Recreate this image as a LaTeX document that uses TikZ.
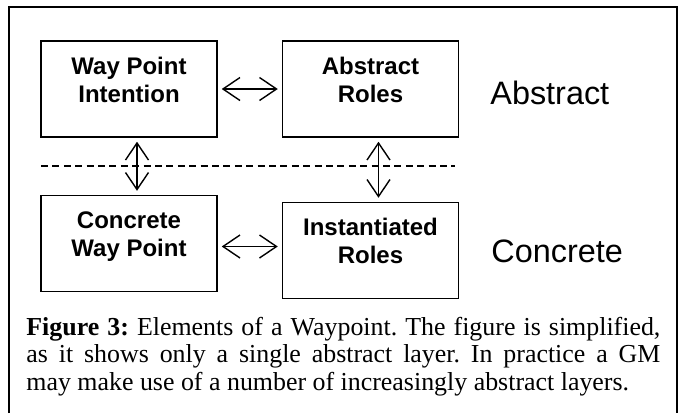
\documentclass[tikz,border=0pt]{standalone}
\usepackage{fontspec}
\setmainfont{Liberation Serif}
\setsansfont{Liberation Sans}
\usetikzlibrary{arrows.meta, positioning}
\frenchspacing

\begin{document}
\begin{tikzpicture}[
    x=0.5pt, y=-0.5pt,
    box/.style={rectangle, draw, line width=0.75pt, minimum width=88pt, minimum height=48pt, align=center, font=\sffamily\bfseries\fontsize{12}{14}\selectfont, text height=22.5pt, text depth=9.5pt},
    link/.style={{Straight Barb[length=8.5pt,width=11.5pt]}-{Straight Barb[length=8.5pt,width=11.5pt]}, line width=0.7pt, shorten <=2pt, shorten >=2pt},
    sep/.style={line width=0.65pt, dash pattern=on 3.5pt off 2.2pt},
    frame/.style={line width=1pt},
    layer/.style={anchor=base west, inner sep=0pt, font=\sffamily\fontsize{16.2}{19}\selectfont},
    caption/.style={anchor=base west, inner sep=0pt, text width=317pt, align=justify, font=\fontsize{12.95}{13.9}\selectfont}
]
\useasboundingbox (0,0) rectangle (681,413);
\draw[frame] (9,413) -- (9,7) -- (677,7) -- (677,413);

\node[box] (wpi) at (129,89) {Way Point\\Intention};
\node[box, right=32pt of wpi] (ar) {Abstract\\Roles};
\node[box, below=28.5pt of wpi] (cwp) {Concrete\\Way Point};
\node[box, below=32pt of ar] (ir) {Instantiated\\Roles};

\node[layer] (abs) at (490,104) {Abstract};
\node[layer] (conc) at (491,262) {Concrete};

\coordinate (sepL) at (41,166);
\coordinate (sepR) at (455,166);
\draw[sep] (sepL) -- (sepR);

\draw[link] (wpi) -- (ar);
\draw[link] ([yshift=-1.5pt]cwp.east) -- ([yshift=-1.5pt]cwp.east -| ir.west);
\draw[link] ([xshift=4pt]wpi.south) -- ([xshift=4pt]cwp.north);
\draw[link] ([xshift=4pt]ar.south) -- ([xshift=4pt]ir.north);

\node[caption] (cap) at (26,335) {\textbf{Figure 3:} Elements of a Waypoint. The figure is simplified,\linebreak as it shows only a single abstract layer. In practice a GM\linebreak may make use of a number of increasingly abstract layers.};

\end{tikzpicture}
\end{document}
